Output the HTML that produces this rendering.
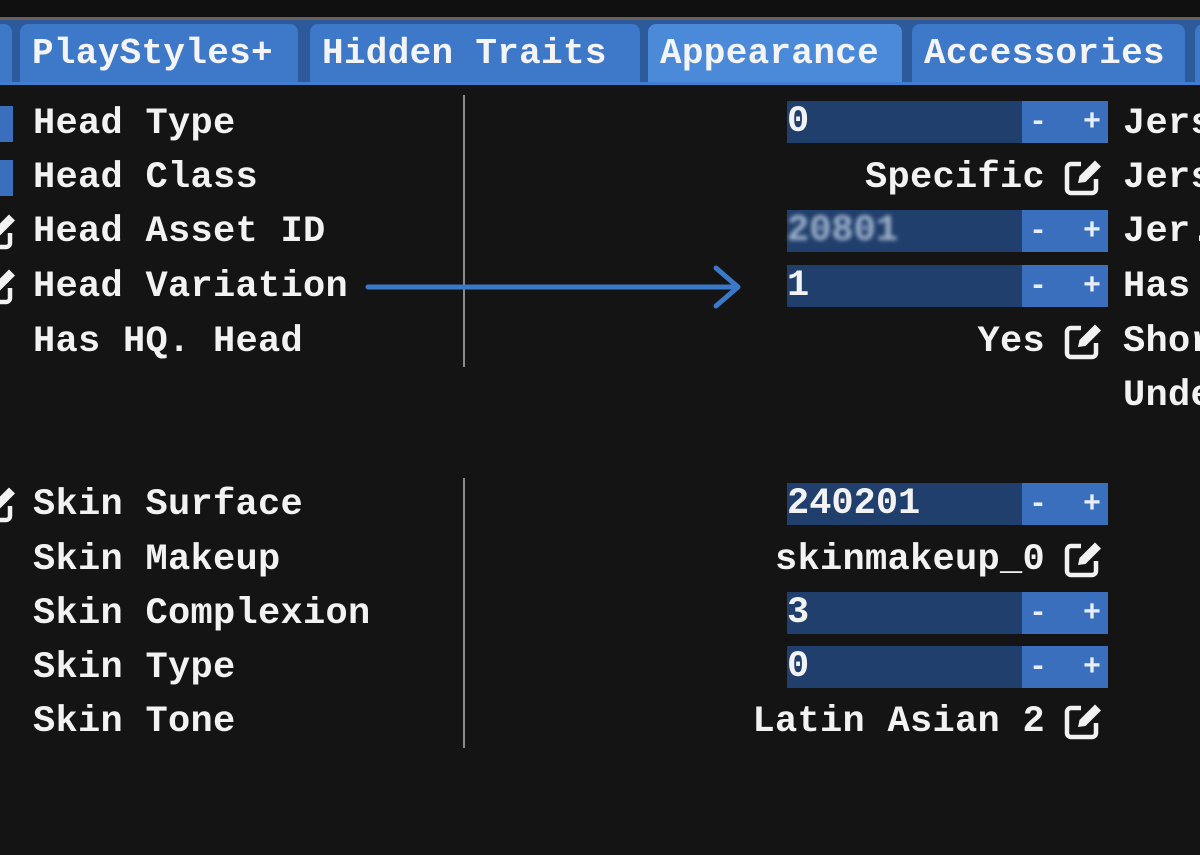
<!DOCTYPE html>
<html><head><style>
body{margin:0;width:1200px;height:855px;background:#141414;overflow:hidden;position:relative;font-family:"Liberation Mono",monospace;color:#f2f2f2}
.t{position:absolute;font-size:37px;line-height:40px;white-space:pre;font-weight:bold;letter-spacing:0.3px}
.tab{position:absolute;top:24px;height:58px;background:#3d78c9;border-radius:8px 8px 0 0;font-size:36px;line-height:60px;font-weight:bold;color:#f4f4f4;white-space:pre;box-sizing:border-box;padding-left:12px;letter-spacing:0.3px}
.f{position:absolute;left:787px;width:321px;height:42px;background:#213f6c}
.f .b{position:absolute;left:235px;top:0;width:86px;height:42px;background:#3a6fbe;color:#e8eef8;font-size:30px;line-height:44px;font-weight:bold;text-align:center;white-space:pre}
.f .v{position:absolute;left:0;top:1px;font-size:37px;line-height:40px;font-weight:bold}
.vl{position:absolute;width:2px;background:#8a8a8a}
svg.e{position:absolute}
</style></head><body>
<div style="position:absolute;left:0;top:0;width:1200px;height:17px;background:#101010"></div>
<div style="position:absolute;left:0;top:17px;width:1200px;height:3px;background:#6b6058"></div>
<div style="position:absolute;left:0;top:20px;width:1200px;height:64px;background:#2d5a9b"></div>
<div style="position:absolute;left:0;top:82px;width:1200px;height:3px;background:#3f7ed0"></div>
<div class="tab" style="left:-10px;width:22px"></div>
<div class="tab" style="left:20px;width:278px">PlayStyles+</div>
<div class="tab" style="left:310px;width:330px">Hidden Traits</div>
<div class="tab" style="left:648px;width:254px;background:#4a8ad8">Appearance</div>
<div class="tab" style="left:912px;width:273px">Accessories</div>
<div class="tab" style="left:1195px;width:20px"></div>

<div style="position:absolute;left:0;top:106px;width:13px;height:36px;background:#3a6fbe"></div>
<div style="position:absolute;left:0;top:160px;width:13px;height:36px;background:#3a6fbe"></div>

<div class="t" style="left:33px;top:104px">Head Type</div>
<div class="t" style="left:33px;top:158px">Head Class</div>
<div class="t" style="left:33px;top:212px">Head Asset ID</div>
<div class="t" style="left:33px;top:267px">Head Variation</div>
<div class="t" style="left:33px;top:322px">Has HQ. Head</div>
<div class="t" style="left:33px;top:485px">Skin Surface</div>
<div class="t" style="left:33px;top:540px">Skin Makeup</div>
<div class="t" style="left:33px;top:594px">Skin Complexion</div>
<div class="t" style="left:33px;top:648px">Skin Type</div>
<div class="t" style="left:33px;top:702px">Skin Tone</div>

<div class="vl" style="left:463px;top:95px;height:272px"></div>
<div class="vl" style="left:463px;top:478px;height:270px"></div>

<svg style="position:absolute;left:0;top:0" width="1200" height="855">
<line x1="368" y1="287" x2="736" y2="287" stroke="#3a78c8" stroke-width="5" stroke-linecap="round"/>
<polyline points="716,268 738,287 716,306" fill="none" stroke="#3a78c8" stroke-width="5" stroke-linecap="round" stroke-linejoin="round"/>
</svg>

<div class="f" style="top:101px"><div class="v">0</div><div class="b">-  +</div></div>
<div class="f" style="top:210px"><div class="v" style="color:#9fb2cc;filter:blur(2px)">20801</div><div class="b">-  +</div></div>
<div class="f" style="top:265px"><div class="v">1</div><div class="b">-  +</div></div>
<div class="f" style="top:483px"><div class="v">240201</div><div class="b">-  +</div></div>
<div class="f" style="top:592px"><div class="v">3</div><div class="b">-  +</div></div>
<div class="f" style="top:646px"><div class="v">0</div><div class="b">-  +</div></div>

<div class="t" style="right:155px;top:158px">Specific</div>
<div class="t" style="right:155px;top:322px">Yes</div>
<div class="t" style="right:155px;top:540px">skinmakeup_0</div>
<div class="t" style="right:155px;top:702px">Latin Asian 2</div>

<div class="t" style="left:1123px;top:104px">Jers</div>
<div class="t" style="left:1123px;top:158px">Jers</div>
<div class="t" style="left:1123px;top:212px">Jer.</div>
<div class="t" style="left:1123px;top:267px">Has</div>
<div class="t" style="left:1123px;top:322px">Shor</div>
<div class="t" style="left:1123px;top:376px">Unde</div>

<svg width="0" height="0" style="position:absolute"><defs>
<g id="ed"><path d="M17 6 H7 a4 4 0 0 0 -4 4 V31 a4 4 0 0 0 4 4 H28 a4 4 0 0 0 4 -4 V21" fill="none" stroke="#f2f2f2" stroke-width="4.5"/><path d="M14 25 L15.5 18 L31 2.5 L37 8.5 L21.5 24 Z" fill="#f2f2f2"/></g></defs></svg>
<svg class="e" style="left:1064px;top:158px" width="40" height="40"><use href="#ed"/></svg>
<svg class="e" style="left:1064px;top:322px" width="40" height="40"><use href="#ed"/></svg>
<svg class="e" style="left:1064px;top:540px" width="40" height="40"><use href="#ed"/></svg>
<svg class="e" style="left:1064px;top:702px" width="40" height="40"><use href="#ed"/></svg>
<svg class="e" style="left:-22px;top:212px" width="40" height="40"><use href="#ed"/></svg>
<svg class="e" style="left:-22px;top:267px" width="40" height="40"><use href="#ed"/></svg>
<svg class="e" style="left:-22px;top:485px" width="40" height="40"><use href="#ed"/></svg>
</body></html>
